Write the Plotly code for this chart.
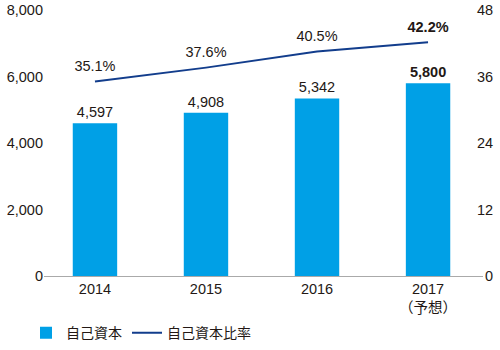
import plotly.graph_objects as go

categories = ["2014", "2015", "2016", "2017<br>（予想）"]
equity = [4597, 4908, 5342, 5800]
ratio = [35.1, 37.6, 40.5, 42.2]
left_ticks = [0, 2000, 4000, 6000, 8000]
right_ticks = [0, 12, 24, 36, 48]

FONT = "Liberation Sans, Arial, Noto Sans CJK JP, sans-serif"
TXT = "#231815"
x = list(range(len(categories)))

bar_text = [f"{v:,}" for v in equity]
bar_text[-1] = f"<b>{bar_text[-1]}</b>"
line_text = [f"{v:.1f}%" for v in ratio]
line_text[-1] = f"<b>{line_text[-1]}</b>"

fig = go.Figure()
fig.add_trace(go.Bar(
    x=x, y=equity, name="自己資本", width=0.4,
    marker=dict(color="#00A0E6", line=dict(width=0)),
    text=bar_text, textposition="outside", cliponaxis=False,
    textfont=dict(size=14.5, color=TXT, family=FONT),
))
fig.add_trace(go.Scatter(
    x=x, y=ratio, name="自己資本比率", yaxis="y2", mode="lines+markers+text",
    line=dict(color="#123D8C", width=2),
    marker=dict(size=9, color="rgba(0,0,0,0)", line=dict(width=0)),
    text=line_text, textposition="top center", cliponaxis=False,
    textfont=dict(size=14.5, color=TXT, family=FONT),
))

fig.update_layout(
    width=500, height=350,
    margin=dict(l=44, r=6, t=10, b=74, autoexpand=False),
    paper_bgcolor="white", plot_bgcolor="white",
    font=dict(family=FONT, size=14.5, color=TXT),
    showlegend=True,
    legend=dict(orientation="h", x=-0.04, xanchor="left", y=-0.155, yanchor="top",
                font=dict(size=14, family=FONT, color=TXT)),
    xaxis=dict(domain=[0, 439 / 450], range=[-0.459, 3.495], automargin=False,
               tickmode="array", tickvals=x, ticktext=categories,
               showline=True, linecolor="#aaaaaa", linewidth=1,
               showgrid=False, zeroline=False, ticks="",
               tickfont=dict(size=14.5, color=TXT)),
    yaxis=dict(range=[0, 8000], tickmode="array", tickvals=left_ticks, automargin=False,
               ticktext=[f"{v:,}" for v in left_ticks],
               showgrid=False, zeroline=False, showline=False, ticks="",
               tickfont=dict(size=14.5, color=TXT)),
    yaxis2=dict(range=[0, 48], tickmode="array", tickvals=right_ticks, automargin=False,
                ticktext=["\u2007" + str(v) if v < 10 else str(v) for v in right_ticks],
                overlaying="y", side="right", anchor="free", position=(476 - 44) / 450,
                showgrid=False, zeroline=False, showline=False, ticks="",
                tickfont=dict(size=14.5, color=TXT)),
)

fig.write_html("out.html")
